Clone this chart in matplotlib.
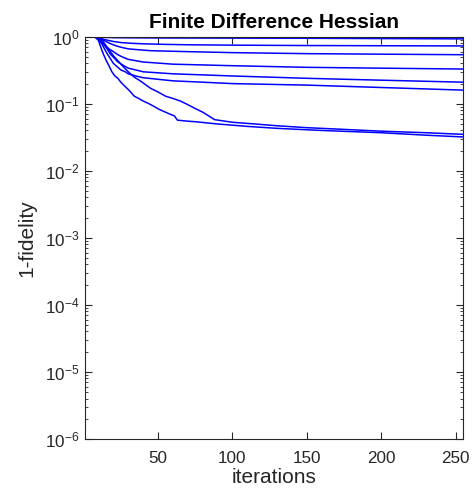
import numpy as np
import matplotlib
matplotlib.use('Agg')
import matplotlib.pyplot as plt
from matplotlib.ticker import LogLocator, NullFormatter, LogFormatterMathtext

plt.rcParams['font.family'] = ['Liberation Sans', 'DejaVu Sans']
plt.rcParams['mathtext.fontset'] = 'custom'
plt.rcParams['mathtext.rm'] = 'Liberation Sans'
plt.rcParams['mathtext.it'] = 'Liberation Sans'
plt.rcParams['mathtext.default'] = 'regular'

# iterations and 1-fidelity, one pair per run
it_1 = [1, 60, 150, 255]
inf_1 = [1.0, 0.999, 0.998, 0.997]
it_2 = [1, 15, 100, 200, 255]
inf_2 = [1.0, 0.995, 0.99, 0.985, 0.975]
it_3 = [1, 10, 15, 20, 30, 50, 100, 150, 255]
inf_3 = [1.0, 1.0, 0.98, 0.97, 0.965, 0.96, 0.955, 0.95, 0.93]
it_4 = [1, 9, 12, 15, 20, 25, 32, 40, 55, 70, 100, 150, 255]
inf_4 = [1.0, 0.98, 0.94, 0.9, 0.85, 0.82, 0.8, 0.785, 0.77, 0.76, 0.75, 0.74, 0.73]
it_5 = [1, 9, 12, 15, 18, 22, 26, 30, 37, 45, 57, 70, 100, 150, 200, 255]
inf_5 = [1.0, 1.0, 0.92, 0.85, 0.79, 0.73, 0.69, 0.66, 0.64, 0.62, 0.61, 0.6, 0.58, 0.56, 0.55, 0.54]
it_6 = [1, 8, 11, 14, 17, 20, 23, 26, 30, 35, 40, 50, 60, 80, 100, 150, 200, 255]
inf_6 = [1.0, 1.0, 0.87, 0.75, 0.66, 0.6, 0.54, 0.5, 0.46, 0.44, 0.42, 0.405, 0.39, 0.38, 0.37, 0.35, 0.34, 0.33]
it_7 = [1, 8, 11, 13, 16, 18, 21, 23, 27, 30, 35, 40, 50, 60, 80, 100, 150, 200, 255]
inf_7 = [1.0, 1.0, 0.88, 0.8, 0.65, 0.55, 0.47, 0.42, 0.37, 0.34, 0.32, 0.3, 0.29, 0.28, 0.27, 0.26, 0.24, 0.225, 0.21]
it_8 = [1, 7, 10, 12, 14, 16, 18, 20, 23, 25, 28, 30, 35, 40, 50, 60, 80, 100, 150, 200, 255]
inf_8 = [1.0, 1.0, 0.9, 0.8, 0.66, 0.55, 0.47, 0.4, 0.35, 0.32, 0.3, 0.28, 0.26, 0.245, 0.232, 0.22, 0.21, 0.2, 0.19, 0.175, 0.16]
it_9 = [1, 9, 11, 13, 15, 18, 20, 23, 26, 30, 34, 38, 42, 45, 50, 55, 60, 65, 70, 75, 80, 84, 88, 95, 100, 115, 130, 150, 170, 200, 230, 255]
inf_9 = [1.0, 1.0, 0.93, 0.85, 0.74, 0.6, 0.52, 0.44, 0.37, 0.3, 0.25, 0.22, 0.19, 0.17, 0.15, 0.13, 0.12, 0.11, 0.097, 0.085, 0.075, 0.066, 0.058, 0.055, 0.053, 0.05, 0.047, 0.044, 0.042, 0.039, 0.037, 0.035]
it_10 = [1, 8, 10, 11, 13, 15, 17, 19, 21, 23, 25, 28, 31, 34, 37, 40, 44, 47, 51, 55, 58, 61, 63, 70, 75, 90, 110, 130, 160, 200, 230, 255]
inf_10 = [1.0, 1.0, 0.88, 0.75, 0.57, 0.45, 0.37, 0.3, 0.26, 0.24, 0.21, 0.18, 0.155, 0.13, 0.12, 0.11, 0.1, 0.092, 0.082, 0.075, 0.07, 0.066, 0.057, 0.055, 0.054, 0.05, 0.046, 0.043, 0.04, 0.037, 0.034, 0.032]

runs = [(it_1, inf_1), (it_2, inf_2), (it_3, inf_3), (it_4, inf_4), (it_5, inf_5),
        (it_6, inf_6), (it_7, inf_7), (it_8, inf_8), (it_9, inf_9), (it_10, inf_10)]

fig = plt.figure(figsize=(4.73, 4.97), dpi=100)
ax = fig.add_axes([0.18, 0.117, 0.799, 0.809])

for x, y in runs:
    ax.plot(x, y, color=(0, 0, 1), linewidth=1.1)

ax.set_yscale('log')
ax.set_ylim(1e-6, 1)
ax.set_xlim(1, 255)
ax.set_xticks([50, 100, 150, 200, 250])
ax.yaxis.set_major_locator(LogLocator(base=10, numticks=10))
ax.yaxis.set_major_formatter(LogFormatterMathtext())
ax.yaxis.set_minor_locator(LogLocator(base=10, subs=np.arange(2, 10), numticks=20))
ax.yaxis.set_minor_formatter(NullFormatter())

axc = (0.15, 0.15, 0.15)
for s in ax.spines.values():
    s.set_color(axc)
    s.set_linewidth(0.8)
ax.tick_params(which='both', direction='in', top=True, right=True, colors=axc,
               labelcolor=axc, labelsize=12.3)
ax.tick_params(which='major', length=5)
ax.tick_params(which='minor', length=2.5)
ax.tick_params(axis='x', pad=9)
ax.tick_params(axis='y', pad=4)

ax.set_xlabel('iterations', fontsize=15, color=axc, labelpad=1)
ax.set_ylabel('1-fidelity', fontsize=15, color=axc, labelpad=6)
ax.set_title('Finite Difference Hessian', fontsize=15, fontweight='bold', pad=6)

fig.savefig('out.png', dpi=100)
